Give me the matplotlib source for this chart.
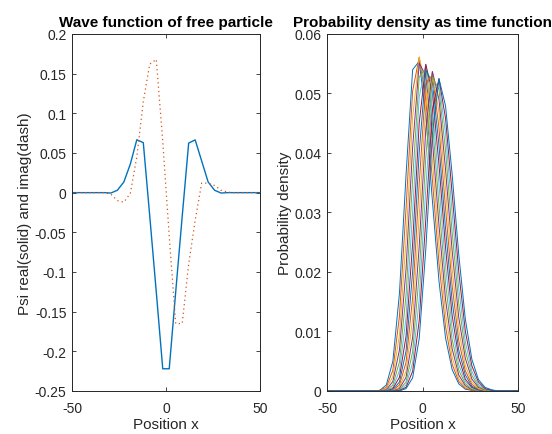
## free particle wave packet: psi at one time and |psi|^2 over time

import numpy as np
import matplotlib.pyplot as plt
from matplotlib.ticker import FuncFormatter

# position grid of the simulation (30 points on [-50, 50])
x = np.linspace(-50, 50, 30)

psi_real = [0, 0, 0, 0, 0, 0, -0.0005, 0.003, 0.0134, 0.036, 0.0667, 0.063,
            -0.030, -0.125, -0.222, -0.222, -0.125, -0.030, 0.0625, 0.0665,
            0.040, 0.0135, 0.003, -0.0005, 0, 0, 0, 0, 0, 0]
psi_imag = [0, 0, 0, 0, 0, 0, -0.002, -0.010, -0.012, -0.001, 0.045, 0.115,
            0.162, 0.168, 0.065, -0.055, -0.165, -0.165, -0.090, -0.035,
            0.012, 0.012, 0.009, 0.003, 0.0005, 0, 0, 0, 0, 0]

# probability density at successive time steps
density_00 = [0, 0, 0, 0, 0, 0, 0, 0, 0.0001, 0.0010, 0.0050, 0.0164, 0.0363, 0.0540, 0.0554,
              0.0462, 0.0320, 0.0185, 0.0089, 0.0036, 0.0012, 0.0003, 0.0001, 0, 0, 0, 0, 0, 0, 0]
density_01 = [0, 0, 0, 0, 0, 0, 0, 0, 0.0001, 0.0006, 0.0035, 0.0126, 0.0307, 0.0504, 0.0561,
              0.0489, 0.0355, 0.0215, 0.0108, 0.0045, 0.0016, 0.0005, 0.0001, 0, 0, 0, 0, 0, 0, 0]
density_02 = [0, 0, 0, 0, 0, 0, 0, 0, 0, 0.0004, 0.0024, 0.0094, 0.0254, 0.0460, 0.0561,
              0.0512, 0.0389, 0.0246, 0.0130, 0.0057, 0.0021, 0.0006, 0.0002, 0, 0, 0, 0, 0, 0, 0]
density_03 = [0, 0, 0, 0, 0, 0, 0, 0, 0, 0.0002, 0.0016, 0.0069, 0.0205, 0.0409, 0.0551,
              0.0530, 0.0422, 0.0279, 0.0154, 0.0071, 0.0027, 0.0009, 0.0002, 0.0001, 0, 0, 0, 0, 0, 0]
density_04 = [0, 0, 0, 0, 0, 0, 0, 0, 0, 0.0001, 0.0010, 0.0049, 0.0161, 0.0355, 0.0528,
              0.0542, 0.0452, 0.0313, 0.0181, 0.0087, 0.0035, 0.0012, 0.0003, 0.0001, 0, 0, 0, 0, 0, 0]
density_05 = [0, 0, 0, 0, 0, 0, 0, 0, 0, 0.0001, 0.0006, 0.0034, 0.0123, 0.0301, 0.0494,
              0.0549, 0.0478, 0.0347, 0.0210, 0.0106, 0.0044, 0.0016, 0.0005, 0.0001, 0, 0, 0, 0, 0, 0]
density_06 = [0, 0, 0, 0, 0, 0, 0, 0, 0, 0, 0.0004, 0.0023, 0.0092, 0.0248, 0.0450,
              0.0549, 0.0501, 0.0381, 0.0241, 0.0127, 0.0056, 0.0020, 0.0006, 0.0002, 0, 0, 0, 0, 0, 0]
density_07 = [0, 0, 0, 0, 0, 0, 0, 0, 0, 0, 0.0002, 0.0015, 0.0067, 0.0200, 0.0401,
              0.0539, 0.0519, 0.0413, 0.0273, 0.0151, 0.0069, 0.0027, 0.0008, 0.0002, 0, 0, 0, 0, 0, 0]
density_08 = [0, 0, 0, 0, 0, 0, 0, 0, 0, 0, 0.0001, 0.0010, 0.0048, 0.0157, 0.0348,
              0.0517, 0.0531, 0.0442, 0.0307, 0.0177, 0.0085, 0.0034, 0.0011, 0.0003, 0.0001, 0, 0, 0, 0, 0]
density_09 = [0, 0, 0, 0, 0, 0, 0, 0, 0, 0, 0.0001, 0.0006, 0.0033, 0.0121, 0.0294,
              0.0483, 0.0537, 0.0468, 0.0340, 0.0205, 0.0103, 0.0043, 0.0015, 0.0004, 0.0001, 0, 0, 0, 0, 0]
density_10 = [0, 0, 0, 0, 0, 0, 0, 0, 0, 0, 0, 0.0004, 0.0023, 0.0090, 0.0243,
              0.0440, 0.0537, 0.0490, 0.0372, 0.0236, 0.0124, 0.0055, 0.0020, 0.0006, 0.0002, 0, 0, 0, 0, 0]
density_11 = [0, 0, 0, 0, 0, 0, 0, 0, 0, 0, 0, 0.0002, 0.0015, 0.0066, 0.0196,
              0.0392, 0.0527, 0.0507, 0.0404, 0.0267, 0.0148, 0.0068, 0.0026, 0.0008, 0.0002, 0, 0, 0, 0, 0]
density_12 = [0, 0, 0, 0, 0, 0, 0, 0, 0, 0, 0, 0.0001, 0.0010, 0.0047, 0.0154,
              0.0340, 0.0505, 0.0519, 0.0432, 0.0300, 0.0173, 0.0083, 0.0033, 0.0011, 0.0003, 0.0001, 0, 0, 0, 0]
density_13 = [0, 0, 0, 0, 0, 0, 0, 0, 0, 0, 0, 0.0001, 0.0006, 0.0033, 0.0118,
              0.0288, 0.0472, 0.0525, 0.0458, 0.0332, 0.0201, 0.0101, 0.0042, 0.0015, 0.0004, 0.0001, 0, 0, 0, 0]
density_14 = [0, 0, 0, 0, 0, 0, 0, 0, 0, 0, 0, 0, 0.0004, 0.0022, 0.0088,
              0.0238, 0.0431, 0.0525, 0.0479, 0.0364, 0.0230, 0.0121, 0.0053, 0.0019, 0.0006, 0.0002, 0, 0, 0, 0]

densities = [density_00, density_01, density_02, density_03, density_04,
             density_05, density_06, density_07, density_08, density_09,
             density_10, density_11, density_12, density_13, density_14]

# matlab default line colours
colors = ['#0072BD', '#D95319', '#EDB120', '#7E2F8E', '#77AC30', '#4DBEEE', '#A2142F']

plt.rcParams['font.family'] = ['Liberation Sans', 'DejaVu Sans']
axis_grey = '#262626'

fig = plt.figure(figsize=(5.52, 4.35), dpi=100)
ax1 = fig.add_axes([0.1304, 0.0989, 0.3406, 0.8207])
ax2 = fig.add_axes([0.5924, 0.0989, 0.3460, 0.8207])

ax1.plot(x, psi_real, color=colors[0], linewidth=1.0)
ax1.plot(x, psi_imag, color=colors[1], linewidth=0.9, linestyle=(0, (1, 2.5)))
ax1.set_xlim(-50, 50)
ax1.set_ylim(-0.25, 0.2)
ax1.set_yticks(np.arange(-0.25, 0.21, 0.05))
ax1.set_title('Wave function of free particle', fontsize=11, fontweight='bold', pad=6)
ax1.set_xlabel('Position x', fontsize=11, color=axis_grey, labelpad=2)
ax1.set_ylabel('Psi real(solid) and imag(dash)', fontsize=11, color=axis_grey, labelpad=2)

for i, d in enumerate(densities):
    ax2.plot(x, d, color=colors[i % len(colors)], linewidth=0.7)
ax2.set_xlim(-50, 50)
ax2.set_ylim(0, 0.06)
ax2.set_yticks(np.arange(0, 0.061, 0.01))
ax2.set_title('Probability density as time function', fontsize=11, fontweight='bold', pad=6)
ax2.set_xlabel('Position x', fontsize=11, color=axis_grey, labelpad=2)
ax2.set_ylabel('Probability density', fontsize=11, color=axis_grey, labelpad=2)


def matlab_label(v, pos):
    v = round(v, 4)
    if abs(v) < 1e-9:
        return '0'
    return '%g' % v


for ax in (ax1, ax2):
    ax.set_xticks([-50, 0, 50])
    ax.yaxis.set_major_formatter(FuncFormatter(matlab_label))
    ax.xaxis.set_major_formatter(FuncFormatter(matlab_label))
    ax.tick_params(direction='in', top=True, right=True, length=3, width=0.6,
                   labelsize=10, colors=axis_grey, pad=4)
    ax.tick_params(axis='x', pad=7)
    for s in ax.spines.values():
        s.set_color(axis_grey)
        s.set_linewidth(0.7)

fig.savefig('out.png', dpi=100)
